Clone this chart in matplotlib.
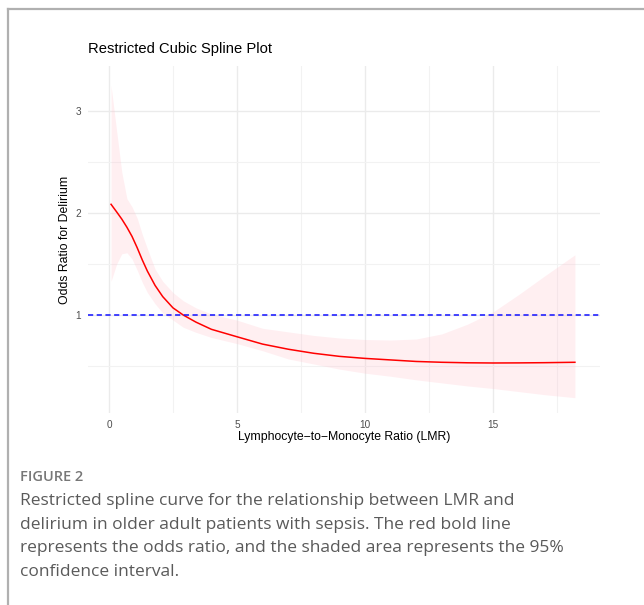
import matplotlib.pyplot as plt
from matplotlib.lines import Line2D

# LMR values and spline estimates
lmr = [0.08, 0.3, 0.5, 0.7, 0.9, 1.1, 1.3, 1.5, 1.8, 2.1, 2.5, 2.9, 3.4, 4.0,
       5, 6, 7, 8, 9, 10, 11, 12, 13, 14, 15, 16, 17, 18.2]
odds_ratio = [2.085, 2.01, 1.94, 1.86, 1.77, 1.66, 1.54, 1.43, 1.29, 1.18, 1.07,
              1.0, 0.93, 0.86, 0.787, 0.715, 0.665, 0.625, 0.595, 0.575, 0.56,
              0.545, 0.537, 0.532, 0.53, 0.531, 0.533, 0.537]
ci_upper = [3.25, 2.8, 2.4, 2.14, 2.06, 1.95, 1.79, 1.65, 1.45, 1.33, 1.22,
            1.14, 1.07, 1.01, 0.95, 0.87, 0.835, 0.80, 0.775, 0.76, 0.755,
            0.765, 0.815, 0.91, 1.03, 1.2, 1.38, 1.59]
ci_lower = [1.33, 1.5, 1.6, 1.61, 1.55, 1.44, 1.32, 1.22, 1.11, 1.02, 0.95,
            0.88, 0.83, 0.78, 0.72, 0.65, 0.57, 0.52, 0.47, 0.43, 0.40,
            0.365, 0.335, 0.305, 0.28, 0.25, 0.22, 0.19]

x_ticks = [0, 5, 10, 15]
y_ticks = [1, 2, 3]

caption_head = "FIGURE 2"
caption_lines = [
    "Restricted spline curve for the relationship between LMR and",
    "delirium in older adult patients with sepsis. The red bold line",
    "represents the odds ratio, and the shaded area represents the 95%",
    "confidence interval.",
]

plt.rcParams['font.family'] = ['Liberation Sans', 'DejaVu Sans']

fig = plt.figure(figsize=(6.44, 6.05), dpi=100)
ax = fig.add_axes([88/644, 1 - 413/605, 512/644, 347/605])

# confidence band, estimate and reference line
ax.fill_between(lmr, ci_lower, ci_upper, color='#FFC0CB', alpha=0.25, lw=0)
ax.plot(lmr, odds_ratio, color='red', lw=1.1)
ax.axhline(1, color='#1010FF', lw=1.1, ls=(0, (3.4, 2.3)))

ax.set_xlim(-0.82, 19.18)
ax.set_ylim(0.04, 3.44)
ax.set_xticks(x_ticks)
ax.set_yticks(y_ticks)
ax.set_xticks([2.5, 7.5, 12.5, 17.5], minor=True)
ax.set_yticks([0.5, 1.5, 2.5], minor=True)
ax.grid(True, which='major', color='#EBEBEB', lw=1.0)
ax.grid(True, which='minor', color='#F2F2F2', lw=0.8)
ax.set_axisbelow(True)
ax.tick_params(which='both', length=0, labelsize=7.2, labelcolor='#4D4D4D')
ax.tick_params(axis='x', pad=5)
ax.tick_params(axis='y', pad=5)
for s in ax.spines.values():
    s.set_visible(False)

ax.set_xlabel("Lymphocyte\u2212to\u2212Monocyte Ratio (LMR)", fontsize=8.8, labelpad=1)
ax.set_ylabel("Odds Ratio for Delirium", fontsize=8.8, labelpad=3)
ax.set_title("Restricted Cubic Spline Plot", loc='left', fontsize=10.6, pad=9)

# frame around the figure panel
fig.add_artist(Line2D([8/644, 1], [1 - 8.5/605, 1 - 8.5/605], color='#B0B0B0', lw=1.6))
fig.add_artist(Line2D([8/644, 8/644], [0, 1 - 8.5/605], color='#B0B0B0', lw=1.6))

# caption
fig.text(20/644, 1 - 477/605, caption_head, fontsize=10.5, color='#777777',
         family=['Open Sans', 'DejaVu Sans'], weight='semibold', va='center')
for i, line in enumerate(caption_lines):
    fig.text(20/644, 1 - (501 + i*23.7)/605, line, fontsize=12.5, color='#5A5A5A',
             family=['Open Sans', 'DejaVu Sans'], va='center')

fig.savefig('out.png', dpi=100)
